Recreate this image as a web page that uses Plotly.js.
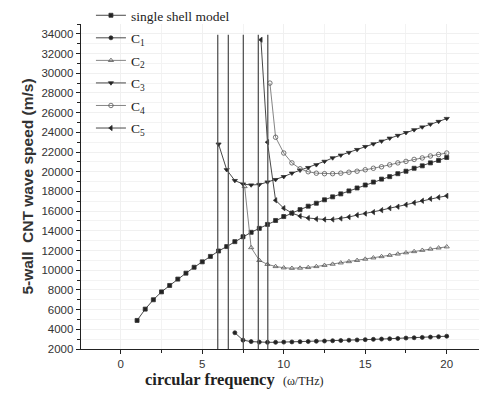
<!DOCTYPE html>
<html><head><meta charset="utf-8">
<script src="https://cdn.plot.ly/plotly-3.0.1.min.js"></script>
<style>html,body{margin:0;padding:0;background:#fff}#c{width:479px;height:396px}</style>
</head><body><div id="c"></div>
<script>
// single shell model
const xSingle = [1,1.5,2,2.5,3,3.5,4,4.5,5,5.5,6,6.5,7,7.5,8,8.5,9,9.5,10,10.5,11,11.5,12,12.5,13,13.5,14,14.5,15,15.5,16,16.5,17,17.5,18,18.5,19,19.5,20];
const ySingle = [4900,6050,7000,7800,8450,9100,9700,10300,10850,11400,11950,12400,12900,13400,13850,14250,14650,15050,15450,15800,16150,16500,16800,17150,17450,17750,18050,18350,18650,18950,19250,19500,19800,20050,20350,20600,20900,21150,21450];
// C1 (lowest branch)
const xC1 = [7,7.5,8,8.5,9,9.5,10,10.5,11,11.5,12,12.5,13,13.5,14,14.5,15,15.5,16,16.5,17,17.5,18,18.5,19,19.5,20];
const yC1 = [3650,2900,2750,2700,2680,2680,2700,2720,2740,2760,2790,2810,2840,2860,2890,2920,2950,2980,3010,3040,3070,3110,3140,3180,3210,3250,3300];
// C2
const xC2 = [7.6,8,8.5,9,9.5,10,10.5,11,11.5,12,12.5,13,13.5,14,14.5,15,15.5,16,16.5,17,17.5,18,18.5,19,19.5,20];
const yC2 = [18500,12300,11000,10600,10380,10250,10200,10220,10280,10380,10500,10620,10750,10880,11000,11130,11260,11390,11520,11650,11780,11900,12030,12150,12270,12380];
// C3 (upper branch from ~6 THz)
const xC3 = [6,6.5,7,7.5,8,8.5,9,9.5,10,10.5,11,11.5,12,12.5,13,13.5,14,14.5,15,15.5,16,16.5,17,17.5,18,18.5,19,19.5,20];
const yC3 = [22800,20200,19100,18750,18650,18700,18950,19200,19500,19850,20150,20420,20700,21050,21400,21680,21950,22250,22550,22820,23100,23400,23680,23970,24250,24540,24820,25100,25400];
// C4
const xC4 = [9.15,9.5,10,10.5,11,11.5,12,12.5,13,13.5,14,14.5,15,15.5,16,16.5,17,17.5,18,18.5,19,19.5,20];
const yC4 = [29000,23500,21900,20900,20300,20000,19850,19800,19800,19850,19950,20050,20200,20350,20500,20700,20900,21050,21250,21400,21600,21750,21900];
// C5
const xC5 = [8.6,9,9.5,10,10.5,11,11.5,12,12.5,13,13.5,14,14.5,15,15.5,16,16.5,17,17.5,18,18.5,19,19.5,20];
const yC5 = [33400,23000,17100,16300,15800,15500,15300,15200,15150,15150,15250,15400,15600,15750,15900,16100,16300,16450,16650,16850,17050,17250,17400,17550];
// cutoff frequencies (vertical lines)
const cutoffs = [5.95,6.6,7.52,8.44,9.02];
const legendNames = ['single shell model','C<sub>1</sub>','C<sub>2</sub>','C<sub>3</sub>','C<sub>4</sub>','C<sub>5</sub>'];
const yTicks = [2000,4000,6000,8000,10000,12000,14000,16000,18000,20000,22000,24000,26000,28000,30000,32000,34000];
const xTicks = [0,5,10,15,20];

const serif = 'Liberation Serif';
const sans = 'Liberation Sans';
function tr(x,y,name,sym,col,lcol,g,sz){
  return {x:x,y:y,name:name,type:'scatter',mode:'lines+markers',legendgroup:g,
    line:{color:lcol,width:0.9},
    marker:{symbol:sym,size:sz||4.5,color:col,line:{color:'#333',width:0.8}}};
}
const data = [
  tr(xSingle,ySingle,legendNames[0],'square','#222','#333','a',4),
  tr(xC1,yC1,legendNames[1],'circle','#222','#333','b',4),
  tr(xC2,yC2,legendNames[2],'triangle-up-open','#555','#777','c',4.5),
  tr(xC3,yC3,legendNames[3],'triangle-down','#222','#333','d',4.5),
  tr(xC4,yC4,legendNames[4],'circle-open','#555','#777','e',4.5),
  tr(xC5,yC5,legendNames[5],'triangle-left','#222','#333','f',4.5)
];
const shapes = cutoffs.map(c=>({type:'line',xref:'x',yref:'y',x0:c,x1:c,y0:2000,y1:33900,line:{color:'#555',width:1.3}}));
const layout = {
  width:479,height:396,margin:{l:81,r:0,t:20,b:47},
  paper_bgcolor:'#fff',plot_bgcolor:'#fff',
  font:{family:serif,color:'#222',size:10},
  showlegend:true,
  legend:{x:0.025,y:1.075,xanchor:'left',yanchor:'top',bgcolor:'rgba(0,0,0,0)',
    font:{family:serif,size:13.5,color:'#222'},tracegroupgap:2,traceorder:'grouped'},
  xaxis:{range:[-2.44,21.98],tickvals:xTicks,ticktext:xTicks.map(String),ticks:'outside',ticklen:4,tickcolor:'#222',
    showline:true,linecolor:'#222',linewidth:1.3,zeroline:false,
    showgrid:true,gridcolor:'#f0f0f0',
    minor:{dtick:2.5,tick0:0,ticks:'outside',ticklen:3,tickcolor:'#222',showgrid:true,gridcolor:'#f3f3f3'},
    tickfont:{family:sans,size:11.5,color:'#333'}},
  yaxis:{range:[2000,35000],tickvals:yTicks,ticktext:yTicks.map(String),
    ticks:'outside',ticklen:4,tickcolor:'#222',
    showline:true,linecolor:'#222',linewidth:1.3,zeroline:false,
    showgrid:true,gridcolor:'#f0f0f0',
    minor:{dtick:1000,tick0:0,ticks:'outside',ticklen:3,tickcolor:'#222',showgrid:true,gridcolor:'#f3f3f3'},
    tickfont:{family:sans,size:11.5,color:'#333'},
    title:{text:'<b>5-wall  CNT wave speed (m/s)</b>',font:{family:sans,size:15.5,color:'#333'},standoff:4}},
  annotations:[{xref:'paper',yref:'paper',x:0.385,y:-0.094,xanchor:'center',yanchor:'middle',showarrow:false,
    text:'<b>circular frequency</b>  <span style="font-size:12px">(ω/THz)</span>',font:{family:serif,size:16.5,color:'#222'}}],
  shapes:shapes
};
Plotly.newPlot('c',data,layout,{staticPlot:true});
</script></body></html>
